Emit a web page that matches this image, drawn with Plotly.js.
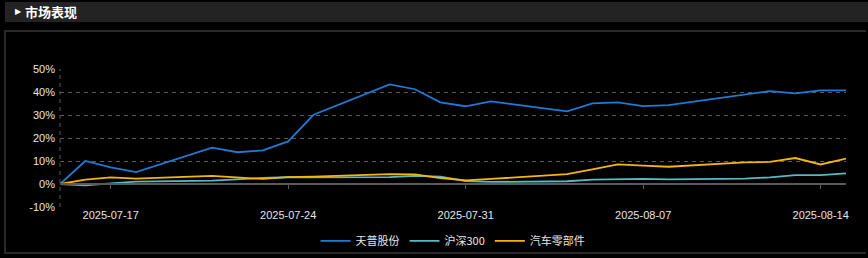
<!DOCTYPE html>
<html>
<head>
<meta charset="utf-8">
<script src="https://cdn.plot.ly/plotly-3.0.1.min.js"></script>
<style>
  html, body { margin: 0; padding: 0; background: #000; width: 868px; height: 258px; overflow: hidden; }
  #bar { position: absolute; left: 5px; top: 2px; width: 863px; height: 20px; background: #232323; }
  #bar .tri { position: absolute; left: 10px; top: 5px; font-size: 8px; color: #fff; font-family: "DejaVu Sans", sans-serif; }
  #bar .txt { position: absolute; left: 20px; top: 1px; font-size: 13px; line-height: 18px; font-weight: bold; color: #fff; font-family: "Noto Sans CJK SC", sans-serif; }
  #box { position: absolute; left: 4px; top: 30px; width: 860px; height: 220px; border: 2px solid #2a2a2a; border-right: none; }
  #chart { position: absolute; left: 0; top: 0; width: 868px; height: 258px; }
</style>
</head>
<body>
<div id="bar"><span class="tri">▶</span><span class="txt">市场表现</span></div>
<div id="box"></div>
<div id="chart"></div>
<script>
const dates = ["2025-07-15","2025-07-16","2025-07-17","2025-07-18","2025-07-21","2025-07-22","2025-07-23","2025-07-24","2025-07-25",
  "2025-07-28","2025-07-29","2025-07-30","2025-07-31","2025-08-01","2025-08-04","2025-08-05","2025-08-06","2025-08-07","2025-08-08",
  "2025-08-11","2025-08-12","2025-08-13","2025-08-14","2025-08-15"];
const tianpu = [0, 10.0, 7.2, 5.2, 15.8, 13.8, 14.6, 18.5, 30.1, 43.3, 41.2, 35.5, 33.8, 35.9, 31.6, 35.1, 35.5, 33.9, 34.3, 39.1, 40.4, 39.4, 40.7, 40.7];
const hs300 = [0, -0.6, 0.3, 1.0, 1.5, 2.2, 2.6, 3.0, 2.9, 3.0, 3.5, 3.2, 1.3, 0.9, 1.2, 1.9, 2.2, 2.2, 2.0, 2.3, 2.9, 3.9, 3.9, 4.6];
const autoParts = [0, 1.9, 2.9, 2.3, 3.5, 2.9, 2.2, 3.0, 3.2, 4.3, 4.2, 2.6, 1.6, 2.2, 4.3, 6.4, 8.5, 8.0, 7.5, 9.4, 9.6, 11.3, 8.5, 11.0];
const seriesNames = ["天普股份", "沪深300", "汽车零部件"];
const tickDates = ["2025-07-17","2025-07-24","2025-07-31","2025-08-07","2025-08-14"];
const yTicks = [-10, 0, 10, 20, 30, 40, 50];
const yTickText = ["-10%","0%","10%","20%","30%","40%","50%"];

const colors = ["#1f7ad6", "#56b9c4", "#f5b50f"];
const vals = [tianpu, hs300, autoParts];
const traces = vals.map((v, i) => ({
  x: dates, y: v, type: "scatter", mode: "lines", name: seriesNames[i],
  line: {color: colors[i], width: 1.8}, xaxis: "x", yaxis: "y"
}));
// helper trace for zero-line axis with ticks
traces.push({x: dates, y: dates.map(() => null), xaxis: "x2", yaxis: "y", showlegend: false, hoverinfo: "skip", type: "scatter", mode: "lines"});

const font = {family: "Liberation Sans, Arial, sans-serif", size: 11, color: "#e6e6e6"};
const layout = {
  width: 868, height: 258,
  paper_bgcolor: "rgba(0,0,0,0)", plot_bgcolor: "rgba(0,0,0,0)",
  margin: {l: 60, r: 22, t: 69, b: 51, autoexpand: false},
  font: font,
  showlegend: true,
  legend: {orientation: "h", x: 0.5, xanchor: "center", y: -0.245, yanchor: "middle",
    font: {family: "Noto Sans CJK SC, sans-serif", size: 11, color: "#e6e6e6"}, bgcolor: "rgba(0,0,0,0)", itemwidth: 30},
  xaxis: {type: "date", range: ["2025-07-15", "2025-08-15"], tickvals: tickDates, tickformat: "%Y-%m-%d",
    showgrid: false, zeroline: false, showline: false, ticks: "", tickfont: font, fixedrange: true, automargin: false},
  xaxis2: {type: "date", range: ["2025-07-15", "2025-08-15"], tickvals: tickDates, overlaying: "x",
    anchor: "free", position: 10/60, showticklabels: false, showgrid: false, zeroline: false, automargin: false,
    showline: true, linecolor: "#5a5a5a", linewidth: 2, ticks: "outside", ticklen: 4, tickwidth: 1, tickcolor: "#5a5a5a"},
  yaxis: {range: [-10, 50], tickvals: yTicks, ticktext: yTickText, showgrid: true, gridcolor: "#5a5a5a", griddash: "4px,4px",
    gridwidth: 1, zeroline: false, showline: false, ticks: "", tickfont: font, fixedrange: true, automargin: false, ticklabelstandoff: 4},
  shapes: [{type: "line", xref: "paper", yref: "paper", x0: 0, x1: 0, y0: 0, y1: 1,
    line: {color: "#5a5a5a", width: 1, dash: "4px,4px"}}]
};
Plotly.newPlot("chart", traces, layout, {displayModeBar: false, staticPlot: true});
</script>
</body>
</html>
